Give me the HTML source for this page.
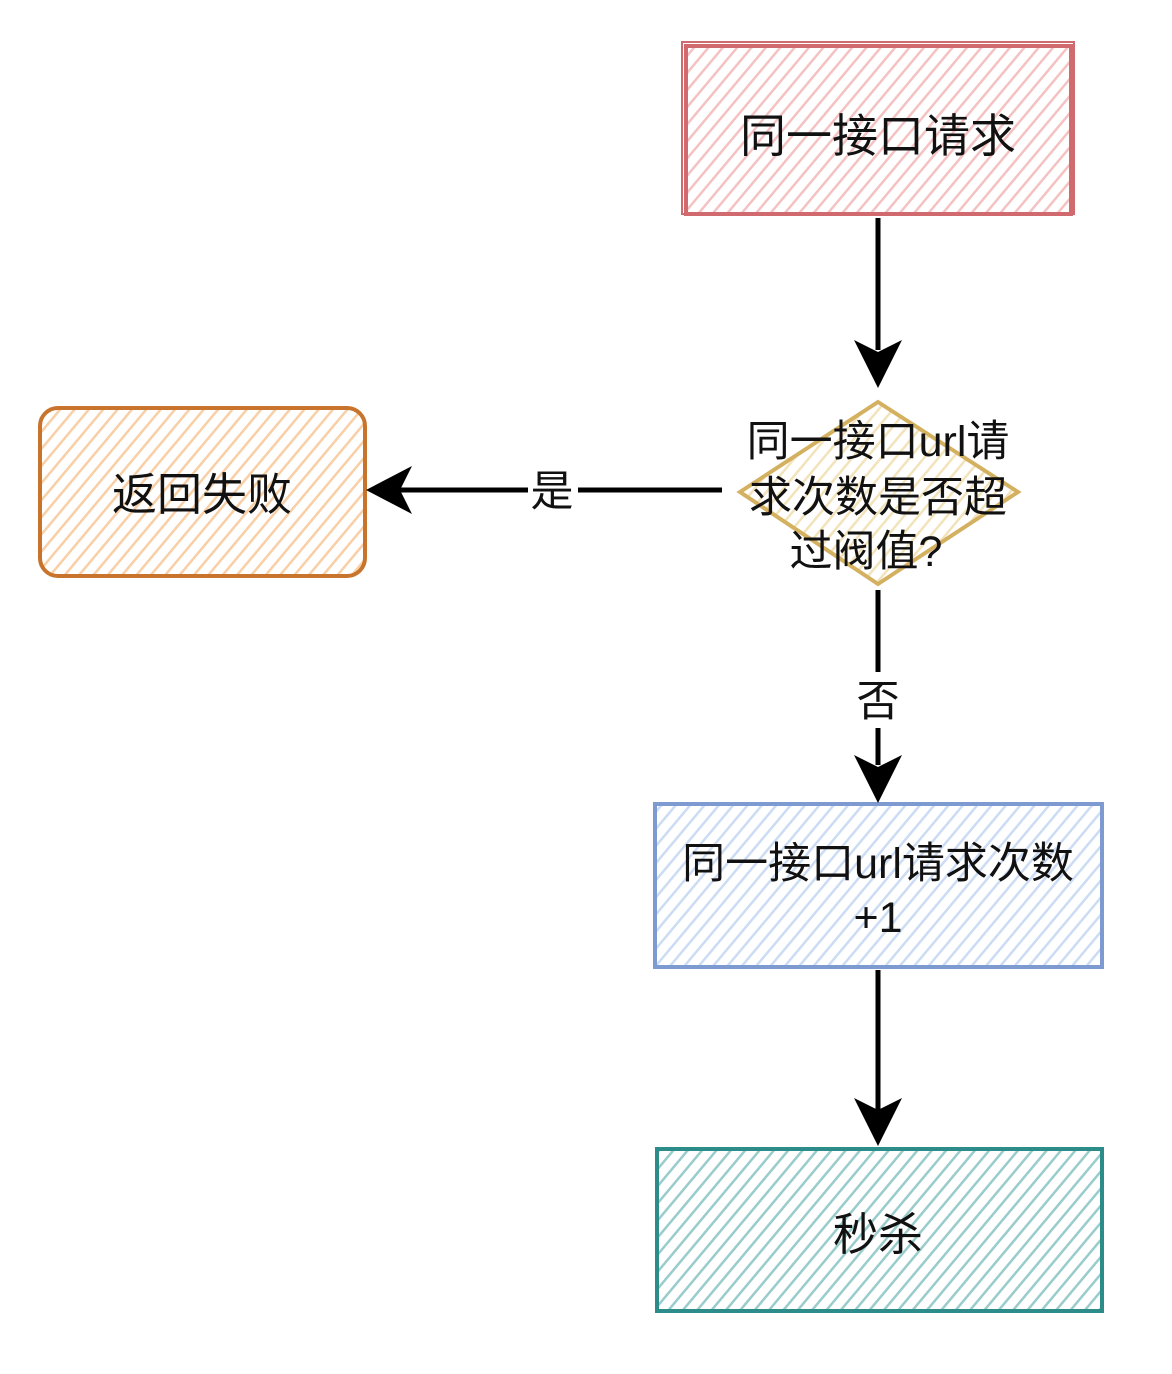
<!DOCTYPE html>
<html><head><meta charset="utf-8"><style>
html,body{margin:0;padding:0;background:#fff;}
svg{display:block;}
text{font-family:"Liberation Sans","Noto Sans CJK SC",sans-serif;fill:#111;}
</style></head><body>
<svg width="1172" height="1374" viewBox="0 0 1172 1374" xmlns="http://www.w3.org/2000/svg">
<defs>
<pattern id="pr" width="11" height="11" patternUnits="userSpaceOnUse" patternTransform="rotate(40)"><rect width="11" height="11" fill="#fff"/><rect width="2.5" height="11" fill="#f4c2c2"/></pattern>
<pattern id="po" width="11" height="11" patternUnits="userSpaceOnUse" patternTransform="rotate(40)"><rect width="11" height="11" fill="#fff"/><rect width="2.5" height="11" fill="#f8cfa6"/></pattern>
<pattern id="py" width="11" height="11" patternUnits="userSpaceOnUse" patternTransform="rotate(40)"><rect width="11" height="11" fill="#fff"/><rect width="2.5" height="11" fill="#f3e3bb"/></pattern>
<pattern id="pb" width="11" height="11" patternUnits="userSpaceOnUse" patternTransform="rotate(40)"><rect width="11" height="11" fill="#fff"/><rect width="2.5" height="11" fill="#ccdcf4"/></pattern>
<pattern id="pt" width="11" height="11" patternUnits="userSpaceOnUse" patternTransform="rotate(40)"><rect width="11" height="11" fill="#fff"/><rect width="2.5" height="11" fill="#99cccb"/></pattern>
</defs>
<rect x="686" y="46" width="385" height="168" fill="url(#pr)" stroke="#d06a6e" stroke-width="4"/>
<rect x="682" y="42" width="392" height="172" fill="none" stroke="#d06a6e" stroke-width="2"/>
<text x="878" y="152" font-size="46" text-anchor="middle">同一接口请求</text>
<rect x="40" y="408" width="325" height="168" rx="18" fill="url(#po)" stroke="#c8742c" stroke-width="4"/>
<text x="202" y="510" font-size="45" text-anchor="middle">返回失败</text>
<polygon points="878,402 1018,492 878,584 740,492" fill="url(#py)" stroke="#d4b160" stroke-width="4"/>
<text x="878" y="456" font-size="43" text-anchor="middle">同一接口url请</text>
<text x="878" y="512" font-size="43" text-anchor="middle">求次数是否超</text>
<text x="866" y="566" font-size="43" text-anchor="middle">过阀值?</text>
<rect x="655" y="804" width="447" height="163" fill="url(#pb)" stroke="#7d9bd0" stroke-width="4"/>
<text x="878" y="878" font-size="43" text-anchor="middle">同一接口url请求次数</text>
<text x="878" y="932" font-size="43" text-anchor="middle">+1</text>
<rect x="657" y="1149" width="445" height="162" fill="url(#pt)" stroke="#2b8c8a" stroke-width="4"/>
<text x="878" y="1250" font-size="45" text-anchor="middle">秒杀</text>
<g stroke="#000" stroke-width="5" fill="none">
<line x1="878" y1="218" x2="878" y2="350"/>
<line x1="878" y1="590" x2="878" y2="672"/>
<line x1="878" y1="728" x2="878" y2="765"/>
<line x1="878" y1="970" x2="878" y2="1110"/>
<line x1="722" y1="490" x2="578" y2="490"/>
<line x1="528" y1="490" x2="400" y2="490"/>
</g>
<g fill="#000">
<polygon points="854,340 878,388 902,340 878,352"/>
<polygon points="854,755 878,803 902,755 878,767"/>
<polygon points="854,1098 878,1146 902,1098 878,1110"/>
<polygon points="412,466 366,490 412,514 400,490"/>
</g>
<text x="552" y="506" font-size="43" text-anchor="middle">是</text>
<text x="878" y="716" font-size="43" text-anchor="middle">否</text>
</svg>
</body></html>
